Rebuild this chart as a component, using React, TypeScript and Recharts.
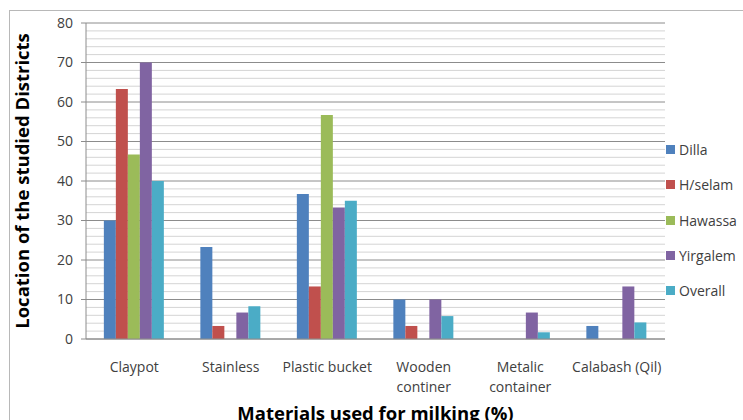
import React from "react";
import { BarChart, Bar, XAxis, YAxis, CartesianGrid, Label } from "recharts";

const categories = ["Claypot", "Stainless", "Plastic bucket", "Wooden continer", "Metalic container", "Calabash (Qil)"];
const dilla = [30, 23.3, 36.7, 10, 0, 3.3];
const hselam = [63.3, 3.3, 13.3, 3.3, 0, 0];
const hawassa = [46.7, 0, 56.7, 0, 0, 0];
const yirgalem = [70, 6.7, 33.3, 10, 6.7, 13.3];
const overall = [40, 8.3, 35, 5.8, 1.7, 4.2];
const yTicks = [0, 10, 20, 30, 40, 50, 60, 70, 80];
const minorTicks = [2, 4, 6, 8, 12, 14, 16, 18, 22, 24, 26, 28, 32, 34, 36, 38, 42, 44, 46, 48, 52, 54, 56, 58, 62, 64, 66, 68, 72, 74, 76, 78];

const series = [
  { key: "Dilla", values: dilla, color: "#4F81BD" },
  { key: "H/selam", values: hselam, color: "#C0504D" },
  { key: "Hawassa", values: hawassa, color: "#9BBB59" },
  { key: "Yirgalem", values: yirgalem, color: "#8064A2" },
  { key: "Overall", values: overall, color: "#4BACC6" },
];

const data = categories.map((c, i) => {
  const row: any = { name: c };
  series.forEach((s) => (row[s.key] = s.values[i]));
  return row;
});

const FONT = "'Open Sans', sans-serif";

const XTick = (props: any) => {
  const { x, y, payload } = props;
  const label: string = payload.value;
  let lines = [label];
  if (label === "Wooden continer") lines = ["Wooden", "continer"];
  if (label === "Metalic container") lines = ["Metalic", "container"];
  return (
    <text x={x} y={y} textAnchor="middle" fontSize={14} fill="#404040" fontFamily={FONT}>
      {lines.map((l, i) => (
        <tspan key={i} x={x} dy={i === 0 ? 25 : 20}>
          {l}
        </tspan>
      ))}
    </text>
  );
};

export default function App() {
  return (
    <div style={{ position: "absolute", left: 0, top: 0, width: 743, height: 420, overflow: "hidden", background: "#fff" }}>
      <div style={{ position: "absolute", left: 9, top: 10, width: 800, height: 500, border: "1px solid #b8b8b8" }} />
      <div style={{ position: "absolute", left: 0, top: 0 }}>
        <BarChart
          width={743}
          height={420}
          data={data}
          margin={{ top: 23, right: 78, left: 26, bottom: 21 }}
          barCategoryGap="18.5%"
          barGap={0}
        >
          <CartesianGrid vertical={false} horizontalValues={minorTicks} stroke="#d4d4d4" />
          <CartesianGrid vertical={false} stroke="#8c8c8c" />
          <XAxis
            dataKey="name"
            tick={<XTick />}
            tickLine={false}
            axisLine={{ stroke: "#8c8c8c" }}
            height={60}
            interval={0}
          >
            <Label
              value="Materials used for milking (%)"
              position="insideBottom"
              offset={-21}
              style={{ fontFamily: FONT, fontSize: 18.5, fontWeight: "bold", fill: "#000" }}
            />
          </XAxis>
          <YAxis
            domain={[0, 80]}
            ticks={yTicks}
            interval={0}
            width={60}
            tick={{ fontSize: 14, fill: "#404040", fontFamily: FONT }}
            tickSize={5}
            tickMargin={8}
            axisLine={{ stroke: "#8c8c8c" }}
            tickLine={{ stroke: "#8c8c8c" }}
          >
            <Label
              value="Location of the studied Districts"
              angle={-90}
              position="insideLeft"
              offset={-4}
              style={{ fontFamily: FONT, fontSize: 18.5, fontWeight: "bold", fill: "#000", textAnchor: "middle" }}
            />
          </YAxis>
          {series.map((s) => (
            <Bar key={s.key} dataKey={s.key} fill={s.color} isAnimationActive={false} />
          ))}
        </BarChart>
      </div>
      <div style={{ position: "absolute", left: 666, top: 132, fontFamily: FONT, fontSize: 14, color: "#404040" }}>
        {series.map((s) => (
          <div key={s.key} style={{ display: "flex", alignItems: "center", height: 35.3 }}>
            <span style={{ display: "inline-block", width: 9, height: 9, background: s.color, marginRight: 4 }} />
            <span>{s.key}</span>
          </div>
        ))}
      </div>
    </div>
  );
}
